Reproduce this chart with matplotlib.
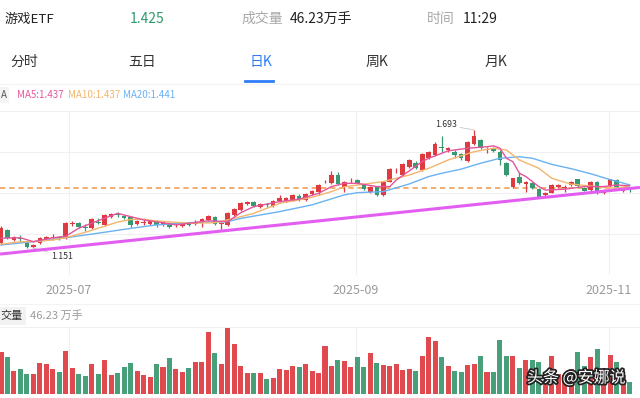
import numpy as np
import matplotlib
matplotlib.use('Agg')
import matplotlib.pyplot as plt
import matplotlib.patheffects as pe
from matplotlib.lines import Line2D
from matplotlib.transforms import blended_transform_factory

plt.rcParams['font.family'] = ['Noto Sans CJK SC', 'DejaVu Sans']

# daily K data, one entry per trading day
opens = [1.174, 1.234, 1.188, 1.195, 1.179, 1.154, 1.174, 1.192, 1.197, 1.202,
         1.197, 1.261, 1.266, 1.247, 1.243, 1.270, 1.257, 1.293, 1.307, 1.300,
         1.293, 1.261, 1.266, 1.261, 1.275, 1.257, 1.266, 1.255, 1.252, 1.265,
         1.261, 1.266, 1.280, 1.293, 1.261, 1.257, 1.303, 1.326, 1.353, 1.362,
         1.339, 1.351, 1.344, 1.367, 1.367, 1.372, 1.390, 1.372, 1.399, 1.410,
         1.452, 1.450, 1.486, 1.433, 1.461, 1.463, 1.440, 1.410, 1.431, 1.395,
         1.456, 1.507, 1.486, 1.524, 1.540, 1.509, 1.564, 1.578, 1.615, 1.603,
         1.593, 1.583, 1.551, 1.627, 1.647, 1.602, 1.611, 1.593, 1.541, 1.430,
         1.478, 1.445, 1.448, 1.420, 1.395, 1.405, 1.430, 1.425, 1.440, 1.466,
         1.425, 1.417, 1.456, 1.403, 1.436, 1.463, 1.413, 1.430]
highs = [1.252, 1.238, 1.206, 1.211, 1.183, 1.170, 1.202, 1.206, 1.215, 1.206,
         1.270, 1.275, 1.270, 1.261, 1.291, 1.289, 1.307, 1.312, 1.316, 1.303,
         1.298, 1.280, 1.282, 1.280, 1.280, 1.275, 1.270, 1.266, 1.266, 1.270,
         1.280, 1.289, 1.303, 1.298, 1.270, 1.316, 1.335, 1.362, 1.367, 1.367,
         1.358, 1.358, 1.372, 1.395, 1.385, 1.399, 1.399, 1.404, 1.417, 1.445,
         1.463, 1.506, 1.502, 1.459, 1.473, 1.468, 1.445, 1.436, 1.436, 1.459,
         1.519, 1.519, 1.541, 1.560, 1.551, 1.587, 1.597, 1.638, 1.667, 1.616,
         1.601, 1.587, 1.642, 1.693, 1.652, 1.616, 1.615, 1.601, 1.546, 1.473,
         1.502, 1.459, 1.454, 1.427, 1.408, 1.445, 1.445, 1.440, 1.459, 1.468,
         1.431, 1.459, 1.459, 1.422, 1.468, 1.468, 1.427, 1.431]
lows = [1.165, 1.192, 1.183, 1.179, 1.153, 1.151, 1.170, 1.188, 1.188, 1.188,
        1.192, 1.252, 1.243, 1.229, 1.238, 1.261, 1.252, 1.289, 1.293, 1.284,
        1.247, 1.257, 1.257, 1.257, 1.247, 1.252, 1.243, 1.247, 1.247, 1.252,
        1.257, 1.247, 1.275, 1.257, 1.238, 1.252, 1.298, 1.321, 1.349, 1.339,
        1.335, 1.339, 1.339, 1.362, 1.362, 1.367, 1.367, 1.367, 1.395, 1.395,
        1.450, 1.445, 1.440, 1.410, 1.450, 1.445, 1.417, 1.404, 1.390, 1.390,
        1.454, 1.496, 1.482, 1.519, 1.514, 1.505, 1.560, 1.574, 1.590, 1.590,
        1.564, 1.555, 1.546, 1.624, 1.606, 1.587, 1.592, 1.532, 1.482, 1.427,
        1.445, 1.410, 1.422, 1.385, 1.390, 1.404, 1.427, 1.410, 1.436, 1.431,
        1.413, 1.413, 1.399, 1.399, 1.431, 1.431, 1.408, 1.408]
closes = [1.243, 1.197, 1.202, 1.192, 1.156, 1.165, 1.197, 1.202, 1.202, 1.192,
          1.266, 1.266, 1.247, 1.243, 1.284, 1.266, 1.303, 1.307, 1.302, 1.289,
          1.257, 1.275, 1.272, 1.275, 1.257, 1.272, 1.247, 1.258, 1.261, 1.257,
          1.270, 1.284, 1.298, 1.261, 1.267, 1.312, 1.330, 1.358, 1.362, 1.342,
          1.353, 1.347, 1.367, 1.381, 1.381, 1.395, 1.372, 1.399, 1.414, 1.440,
          1.456, 1.486, 1.445, 1.456, 1.465, 1.448, 1.422, 1.433, 1.395, 1.456,
          1.514, 1.511, 1.535, 1.555, 1.517, 1.581, 1.593, 1.627, 1.611, 1.609,
          1.578, 1.564, 1.637, 1.667, 1.609, 1.607, 1.597, 1.555, 1.486, 1.471,
          1.448, 1.456, 1.425, 1.387, 1.405, 1.440, 1.440, 1.432, 1.456, 1.436,
          1.414, 1.456, 1.403, 1.417, 1.466, 1.433, 1.425, 1.425]
# volume, 万手
volumes = [154, 137, 87, 93, 73, 73, 115, 111, 92, 81,
           160, 95, 73, 67, 111, 76, 125, 71, 77, 99,
           116, 87, 71, 62, 111, 101, 132, 92, 81, 98,
           117, 120, 228, 153, 111, 244, 186, 103, 78, 77,
           78, 55, 59, 92, 89, 103, 99, 111, 84, 78,
           176, 103, 126, 121, 100, 136, 99, 153, 115, 106,
           105, 110, 88, 94, 84, 139, 209, 195, 137, 103,
           84, 81, 106, 111, 142, 82, 82, 200, 139, 139,
           97, 127, 127, 117, 52, 139, 75, 71, 93, 156,
           103, 137, 166, 59, 143, 117, 71, 46.23]

# moving averages read at knots (day index, value)
ma5_idx = [0, 3, 5, 8, 10, 12, 14, 16, 18, 20, 22, 26, 27, 32, 35, 37, 39, 43, 46, 49,
           51, 53, 55, 58, 60, 61, 63, 65, 66, 69, 72, 75, 76, 77, 78, 79, 80, 81, 83, 84,
           87, 90, 93, 95, 97]
ma5_val = [1.196, 1.198, 1.180, 1.198, 1.205, 1.242, 1.265, 1.288, 1.310, 1.295, 1.280,
           1.262, 1.257, 1.276, 1.272, 1.313, 1.341, 1.364, 1.375, 1.402, 1.433, 1.448,
           1.448, 1.433, 1.433, 1.463, 1.505, 1.548, 1.563, 1.597, 1.609, 1.616, 1.620,
           1.609, 1.563, 1.547, 1.494, 1.479, 1.433, 1.417, 1.421, 1.433, 1.433, 1.440,
           1.437]
ma10_idx = [0, 3, 5, 8, 10, 13, 15, 18, 20, 22, 24, 29, 33, 36, 39, 43, 46, 48, 51, 53,
            55, 59, 63, 66, 69, 73, 76, 78, 80, 83, 85, 88, 92, 95, 97]
ma10_val = [1.168, 1.180, 1.180, 1.188, 1.198, 1.223, 1.242, 1.270, 1.282, 1.283, 1.275,
            1.265, 1.267, 1.287, 1.310, 1.356, 1.372, 1.384, 1.410, 1.432, 1.440, 1.456,
            1.486, 1.517, 1.555, 1.593, 1.609, 1.601, 1.555, 1.517, 1.471, 1.444, 1.433,
            1.425, 1.437]
ma20_idx = [0, 5, 10, 15, 20, 24, 29, 35, 37, 43, 48, 53, 55, 59, 63, 66, 68, 71, 74, 77,
            80, 82, 85, 88, 91, 94, 97]
ma20_val = [1.165, 1.180, 1.198, 1.219, 1.241, 1.257, 1.267, 1.272, 1.287, 1.318, 1.349,
            1.395, 1.405, 1.410, 1.445, 1.479, 1.494, 1.513, 1.540, 1.563, 1.570, 1.563,
            1.535, 1.515, 1.492, 1.465, 1.441]

last_price = 1.425
trend_x = [-0.15, 98.6]
trend_y = [1.123, 1.429]

date_pos = [10.5, 54.8, 93.8]
date_labels = ['2025-07', '2025-09', '2025-11']

tabs = ['分时', '五日', '日K', '周K', '月K']

# colours
RED = '#de3a40'
GREEN = '#389870'
PINK = '#e4559c'
ORANGE = '#f4b56c'
BLUE = '#6ab2f2'
GRID = '#f0f0f0'

W, H = 640, 398


def box(x0, y0, x1, y1):
    # pixel box (top-left origin) -> figure fraction rect
    return [x0 / W, 1 - y1 / H, (x1 - x0) / W, (y1 - y0) / H]


fig = plt.figure(figsize=(6.4, 3.98), dpi=100)
fig.patch.set_facecolor('white')

ax = fig.add_axes(box(0, 111, 640, 275))
axv = fig.add_axes(box(0, 327, 640, 394.3))

idx = np.arange(len(closes))
o = np.array(opens)
c = np.array(closes)
up = c >= o
cols = np.where(up, RED, GREEN)

# price panel
ax.set_xlim(-0.154, 98.61)
ax.set_ylim(1.027, 1.780)
ax.set_yticks(np.linspace(1.027, 1.780, 5))
ax.set_xticks(date_pos)
ax.grid(color=GRID, lw=0.8)
ax.tick_params(length=0, labelbottom=False, labelleft=False)
for s in ax.spines.values():
    s.set_visible(False)

ax.axhline(last_price, color='#f0984a', lw=1.1, ls=(0, (3.5, 2.5)), zorder=2)
ax.plot(trend_x, trend_y, color='#e35ef0', lw=2.2, solid_capstyle='butt', zorder=4)

ax.vlines(idx, lows, highs, colors=cols, lw=0.9, zorder=3)
ax.bar(idx, np.maximum(np.abs(c - o), 0.003), width=0.72, bottom=np.minimum(o, c),
       color=cols, zorder=3)

ax.plot(ma20_idx, ma20_val, color=BLUE, lw=1.0, zorder=3.5)
ax.plot(ma10_idx, ma10_val, color=ORANGE, lw=1.0, zorder=3.5)
ax.plot(ma5_idx, ma5_val, color=PINK, lw=1.0, zorder=3.5)

ax.annotate('1.693', xy=(73, 1.693), xytext=(70.4, 1.716), ha='right', va='center',
            fontsize=6.3, color='#333333',
            arrowprops=dict(arrowstyle='-', color='#c8c8c8', lw=0.6, shrinkA=0, shrinkB=0))
ax.annotate('1.151', xy=(5, 1.151), xytext=(7.7, 1.114), ha='left', va='center',
            fontsize=6.3, color='#333333',
            arrowprops=dict(arrowstyle='-', color='#c8c8c8', lw=0.6, shrinkA=0, shrinkB=0))

# date labels
tr = blended_transform_factory(ax.transData, fig.transFigure)
for p, lab in zip(date_pos, date_labels):
    ax.text(p, 1 - 290 / H, lab, transform=tr, ha='center', va='center',
            fontsize=9, color='#9a9a9a', clip_on=False)

# volume panel
axv.set_xlim(-0.154, 98.61)
axv.set_ylim(0, 247)
axv.set_yticks([247])
axv.set_xticks(date_pos)
axv.grid(color=GRID, lw=0.8)
axv.tick_params(length=0, labelbottom=False, labelleft=False)
for s in axv.spines.values():
    s.set_visible(False)
axv.bar(idx, volumes, width=0.78, color=cols, alpha=0.92, zorder=3)

# header
fig.text(5 / W, 1 - 19 / H, '游戏ETF', fontsize=9.5, color='#222222', va='center')
fig.text(130 / W, 1 - 19 / H, '1.425', fontsize=10, color='#2e9a6a', va='center')
fig.text(241 / W, 1 - 19 / H, '成交量', fontsize=10, color='#a8a8a8', va='center')
fig.text(290 / W, 1 - 19 / H, '46.23万手', fontsize=10, color='#222222', va='center')
fig.text(427 / W, 1 - 19 / H, '时间', fontsize=10, color='#a8a8a8', va='center')
fig.text(463 / W, 1 - 19 / H, '11:29', fontsize=10, color='#222222', va='center')

tab_x = [10, 128, 250, 366, 485]
for x, t in zip(tab_x, tabs):
    fig.text(x / W, 1 - 62 / H, t, fontsize=10, va='center',
             color='#2f7cf6' if t == '日K' else '#333333')
fig.add_artist(Line2D([245 / W, 273 / W], [1 - 81 / H, 1 - 81 / H], color='#2f7cf6', lw=2))
fig.add_artist(Line2D([0, 1], [1 - 83.5 / H, 1 - 83.5 / H], color='#f3f3f3', lw=0.8))

# MA legend row (the left label is clipped by the screen edge in the original)
fig.text(0.5 / W, 1 - 95 / H, 'A', fontsize=7, color='#555555', va='center',
         bbox=dict(boxstyle='square,pad=0.3', fc='#f4f4f4', ec='none'))
fig.text(17 / W, 1 - 95 / H, 'MA5:1.437', fontsize=7, color=PINK, va='center')
fig.text(68 / W, 1 - 95 / H, 'MA10:1.437', fontsize=7, color=ORANGE, va='center')
fig.text(123 / W, 1 - 95 / H, 'MA20:1.441', fontsize=7, color=BLUE, va='center')

# volume label row
fig.add_artist(Line2D([0, 1], [1 - 304 / H, 1 - 304 / H], color='#f3f3f3', lw=0.8))
fig.text(0.5 / W, 1 - 316 / H, '交量', fontsize=8, color='#333333', va='center',
         bbox=dict(boxstyle='square,pad=0.3', fc='#f2f2f2', ec='none'))
fig.text(30 / W, 1 - 316 / H, '46.23 万手', fontsize=8, color='#9a9a9a', va='center')

# watermark
fig.text(527 / W, 1 - 378 / H, '头条 @安娜说', fontsize=11.5, color='white', va='center',
         path_effects=[pe.withStroke(linewidth=2.5, foreground='#222222')])

fig.savefig('out.png', dpi=100)
